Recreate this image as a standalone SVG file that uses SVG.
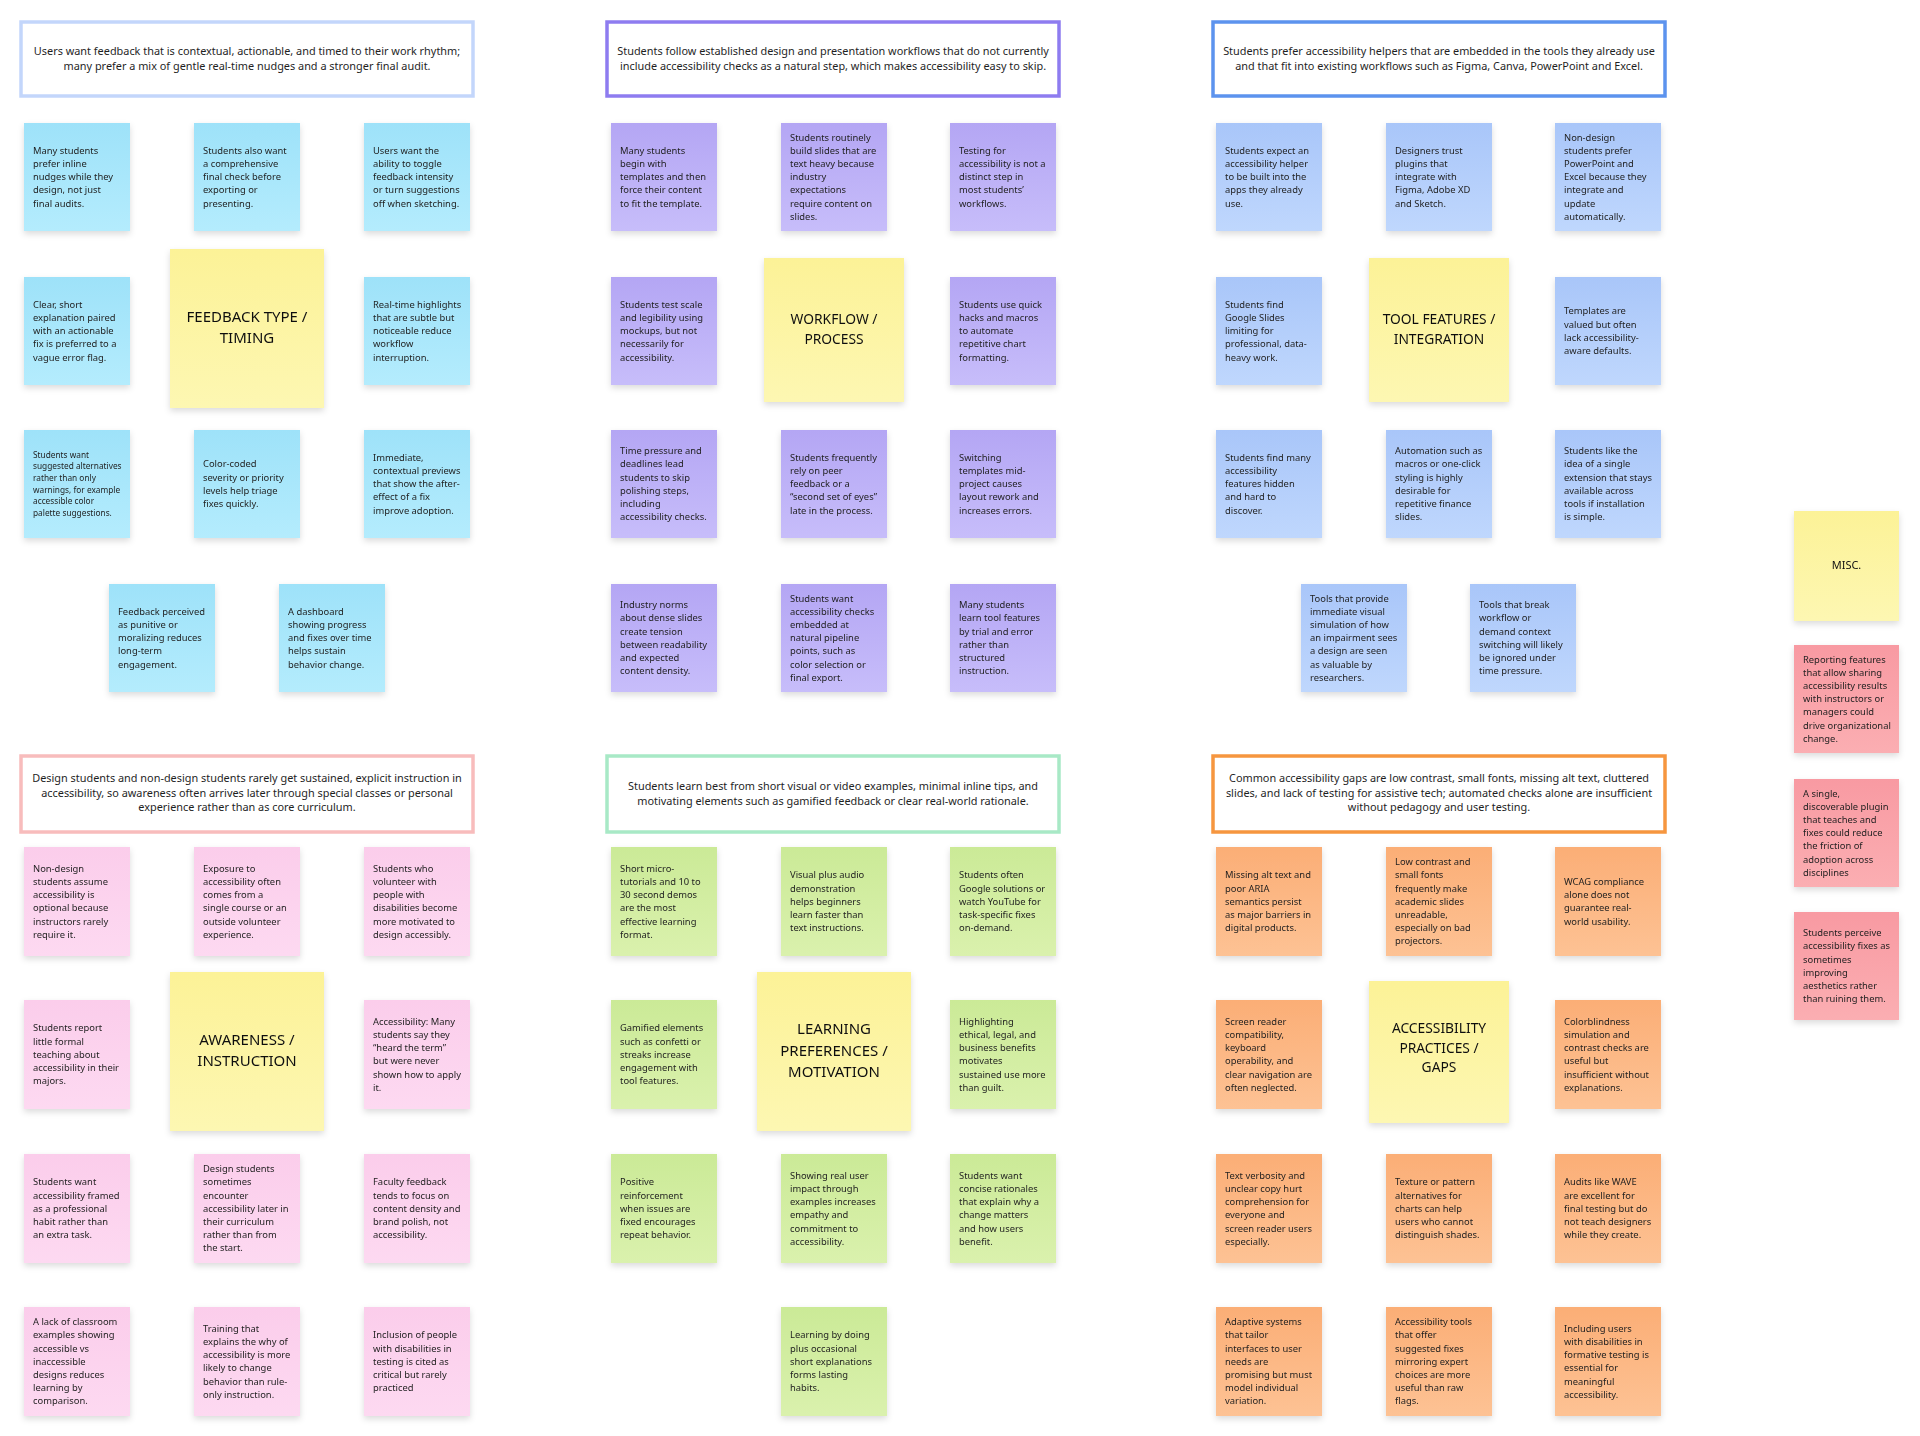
<svg xmlns="http://www.w3.org/2000/svg" width="1920" height="1436" viewBox="0 0 1920 1436">
<defs>
<filter id="sh" x="-20%" y="-20%" width="140%" height="150%"><feDropShadow dx="0" dy="3" stdDeviation="3" flood-color="#000" flood-opacity="0.14"/></filter>
<linearGradient id="gB1" x1="0" y1="0" x2="0" y2="1"><stop offset="0" stop-color="#9ee2f9"/><stop offset="1" stop-color="#b4ecfd"/></linearGradient>
<linearGradient id="gP" x1="0" y1="0" x2="0" y2="1"><stop offset="0" stop-color="#b4a6f4"/><stop offset="1" stop-color="#c7bdfa"/></linearGradient>
<linearGradient id="gB2" x1="0" y1="0" x2="0" y2="1"><stop offset="0" stop-color="#a9c6f9"/><stop offset="1" stop-color="#bfd7fd"/></linearGradient>
<linearGradient id="gK" x1="0" y1="0" x2="0" y2="1"><stop offset="0" stop-color="#fbcdeb"/><stop offset="1" stop-color="#fdd9f1"/></linearGradient>
<linearGradient id="gG" x1="0" y1="0" x2="0" y2="1"><stop offset="0" stop-color="#cbea97"/><stop offset="1" stop-color="#daf1ad"/></linearGradient>
<linearGradient id="gO" x1="0" y1="0" x2="0" y2="1"><stop offset="0" stop-color="#fbae76"/><stop offset="1" stop-color="#fdc294"/></linearGradient>
<linearGradient id="gR" x1="0" y1="0" x2="0" y2="1"><stop offset="0" stop-color="#f89aa2"/><stop offset="1" stop-color="#fbaeb2"/></linearGradient>
<linearGradient id="gY" x1="0" y1="0" x2="0" y2="1"><stop offset="0" stop-color="#fcf297"/><stop offset="1" stop-color="#fdf7b2"/></linearGradient>
</defs>
<style>
text{font-family:"Noto Sans","Open Sans","DejaVu Sans",sans-serif;fill:#1f1f1f}
.s{font-size:9.4px}
.ss{font-size:8.3px}
.hd{font-size:10.9px;text-anchor:middle}
.lab{font-size:15px;text-anchor:middle;fill:#111}
.lab2{font-size:13.8px;text-anchor:middle;fill:#111}
.hb{fill:#fff;stroke-width:3.5}
.n{filter:url(#sh)}
.b1{fill:url(#gB1)}.p{fill:url(#gP)}.b2{fill:url(#gB2)}.k{fill:url(#gK)}.g{fill:url(#gG)}.o{fill:url(#gO)}.r{fill:url(#gR)}.y{fill:url(#gY)}
</style>
<rect width="1920" height="1436" fill="#fff"/>
<g id="connectors"/>

<!-- Headers -->
<g id="h1"><rect class="hb" x="21" y="22" width="452" height="74" stroke="#c3d6fb"/><text class="hd" y="55"><tspan x="247">Users want feedback that is contextual, actionable, and timed to their work rhythm;</tspan><tspan x="247" dy="14.7">many prefer a mix of gentle real-time nudges and a stronger final audit.</tspan></text></g>
<g id="h2"><rect class="hb" x="607" y="22" width="452" height="74" stroke="#8e7cf0"/><text class="hd" y="55"><tspan x="833">Students follow established design and presentation workflows that do not currently</tspan><tspan x="833" dy="14.7">include accessibility checks as a natural step, which makes accessibility easy to skip.</tspan></text></g>
<g id="h3"><rect class="hb" x="1213" y="22" width="452" height="74" stroke="#5c93ee"/><text class="hd" y="55"><tspan x="1439">Students prefer accessibility helpers that are embedded in the tools they already use</tspan><tspan x="1439" dy="14.7">and that fit into existing workflows such as Figma, Canva, PowerPoint and Excel.</tspan></text></g>
<g id="h4"><rect class="hb" x="21" y="756" width="452" height="76" stroke="#f8bcbc"/><text class="hd" y="782"><tspan x="247">Design students and non-design students rarely get sustained, explicit instruction in</tspan><tspan x="247" dy="14.7">accessibility, so awareness often arrives later through special classes or personal</tspan><tspan x="247" dy="14.7">experience rather than as core curriculum.</tspan></text></g>
<g id="h5"><rect class="hb" x="607" y="756" width="452" height="76" stroke="#a8e9c6"/><text class="hd" y="790"><tspan x="833">Students learn best from short visual or video examples, minimal inline tips, and</tspan><tspan x="833" dy="14.7">motivating elements such as gamified feedback or clear real-world rationale.</tspan></text></g>
<g id="h6"><rect class="hb" x="1213" y="756" width="452" height="76" stroke="#f6963f"/><text class="hd" y="782"><tspan x="1439">Common accessibility gaps are low contrast, small fonts, missing alt text, cluttered</tspan><tspan x="1439" dy="14.7">slides, and lack of testing for assistive tech; automated checks alone are insufficient</tspan><tspan x="1439" dy="14.7">without pedagogy and user testing.</tspan></text></g>

<!-- Group 1: Feedback -->
<g id="n1a" class="n"><rect class="b1" x="24" y="123" width="106" height="108"/><text class="s" y="153.8"><tspan x="33">Many students</tspan><tspan x="33" dy="13.2">prefer inline</tspan><tspan x="33" dy="13.2">nudges while they</tspan><tspan x="33" dy="13.2">design, not just</tspan><tspan x="33" dy="13.2">final audits.</tspan></text></g>
<g id="n1b" class="n"><rect class="b1" x="194" y="123" width="106" height="108"/><text class="s" y="153.8"><tspan x="203">Students also want</tspan><tspan x="203" dy="13.2">a comprehensive</tspan><tspan x="203" dy="13.2">final check before</tspan><tspan x="203" dy="13.2">exporting or</tspan><tspan x="203" dy="13.2">presenting.</tspan></text></g>
<g id="n1c" class="n"><rect class="b1" x="364" y="123" width="106" height="108"/><text class="s" y="153.8"><tspan x="373">Users want the</tspan><tspan x="373" dy="13.2">ability to toggle</tspan><tspan x="373" dy="13.2">feedback intensity</tspan><tspan x="373" dy="13.2">or turn suggestions</tspan><tspan x="373" dy="13.2">off when sketching.</tspan></text></g>
<g id="n1d" class="n"><rect class="b1" x="24" y="277" width="106" height="108"/><text class="s" y="307.8"><tspan x="33">Clear, short</tspan><tspan x="33" dy="13.2">explanation paired</tspan><tspan x="33" dy="13.2">with an actionable</tspan><tspan x="33" dy="13.2">fix is preferred to a</tspan><tspan x="33" dy="13.2">vague error flag.</tspan></text></g>
<g id="t1" class="n"><rect class="y" x="170" y="249" width="154" height="159"/><text class="lab" y="322"><tspan x="247">FEEDBACK TYPE /</tspan><tspan x="247" dy="21">TIMING</tspan></text></g>
<g id="n1e" class="n"><rect class="b1" x="364" y="277" width="106" height="108"/><text class="s" y="307.8"><tspan x="373">Real-time highlights</tspan><tspan x="373" dy="13.2">that are subtle but</tspan><tspan x="373" dy="13.2">noticeable reduce</tspan><tspan x="373" dy="13.2">workflow</tspan><tspan x="373" dy="13.2">interruption.</tspan></text></g>
<g id="n1f" class="n"><rect class="b1" x="24" y="430" width="106" height="108"/><text class="ss" y="457.8"><tspan x="33">Students want</tspan><tspan x="33" dy="11.6">suggested alternatives</tspan><tspan x="33" dy="11.6">rather than only</tspan><tspan x="33" dy="11.6">warnings, for example</tspan><tspan x="33" dy="11.6">accessible color</tspan><tspan x="33" dy="11.6">palette suggestions.</tspan></text></g>
<g id="n1g" class="n"><rect class="b1" x="194" y="430" width="106" height="108"/><text class="s" y="467.4"><tspan x="203">Color-coded</tspan><tspan x="203" dy="13.2">severity or priority</tspan><tspan x="203" dy="13.2">levels help triage</tspan><tspan x="203" dy="13.2">fixes quickly.</tspan></text></g>
<g id="n1h" class="n"><rect class="b1" x="364" y="430" width="106" height="108"/><text class="s" y="460.8"><tspan x="373">Immediate,</tspan><tspan x="373" dy="13.2">contextual previews</tspan><tspan x="373" dy="13.2">that show the after-</tspan><tspan x="373" dy="13.2">effect of a fix</tspan><tspan x="373" dy="13.2">improve adoption.</tspan></text></g>
<g id="n1i" class="n"><rect class="b1" x="109" y="584" width="106" height="108"/><text class="s" y="614.8"><tspan x="118">Feedback perceived</tspan><tspan x="118" dy="13.2">as punitive or</tspan><tspan x="118" dy="13.2">moralizing reduces</tspan><tspan x="118" dy="13.2">long-term</tspan><tspan x="118" dy="13.2">engagement.</tspan></text></g>
<g id="n1j" class="n"><rect class="b1" x="279" y="584" width="106" height="108"/><text class="s" y="614.8"><tspan x="288">A dashboard</tspan><tspan x="288" dy="13.2">showing progress</tspan><tspan x="288" dy="13.2">and fixes over time</tspan><tspan x="288" dy="13.2">helps sustain</tspan><tspan x="288" dy="13.2">behavior change.</tspan></text></g>

<!-- Group 2: Workflow -->
<g id="n2a" class="n"><rect class="p" x="611" y="123" width="106" height="108"/><text class="s" y="153.8"><tspan x="620">Many students</tspan><tspan x="620" dy="13.2">begin with</tspan><tspan x="620" dy="13.2">templates and then</tspan><tspan x="620" dy="13.2">force their content</tspan><tspan x="620" dy="13.2">to fit the template.</tspan></text></g>
<g id="n2b" class="n"><rect class="p" x="781" y="123" width="106" height="108"/><text class="s" y="140.6"><tspan x="790">Students routinely</tspan><tspan x="790" dy="13.2">build slides that are</tspan><tspan x="790" dy="13.2">text heavy because</tspan><tspan x="790" dy="13.2">industry</tspan><tspan x="790" dy="13.2">expectations</tspan><tspan x="790" dy="13.2">require content on</tspan><tspan x="790" dy="13.2">slides.</tspan></text></g>
<g id="n2c" class="n"><rect class="p" x="950" y="123" width="106" height="108"/><text class="s" y="153.8"><tspan x="959">Testing for</tspan><tspan x="959" dy="13.2">accessibility is not a</tspan><tspan x="959" dy="13.2">distinct step in</tspan><tspan x="959" dy="13.2">most students’</tspan><tspan x="959" dy="13.2">workflows.</tspan></text></g>
<g id="n2d" class="n"><rect class="p" x="611" y="277" width="106" height="108"/><text class="s" y="307.8"><tspan x="620">Students test scale</tspan><tspan x="620" dy="13.2">and legibility using</tspan><tspan x="620" dy="13.2">mockups, but not</tspan><tspan x="620" dy="13.2">necessarily for</tspan><tspan x="620" dy="13.2">accessibility.</tspan></text></g>
<g id="t2" class="n"><rect class="y" x="764" y="258" width="140" height="144"/><text class="lab2" y="324"><tspan x="834">WORKFLOW /</tspan><tspan x="834" dy="19.5">PROCESS</tspan></text></g>
<g id="n2e" class="n"><rect class="p" x="950" y="277" width="106" height="108"/><text class="s" y="307.8"><tspan x="959">Students use quick</tspan><tspan x="959" dy="13.2">hacks and macros</tspan><tspan x="959" dy="13.2">to automate</tspan><tspan x="959" dy="13.2">repetitive chart</tspan><tspan x="959" dy="13.2">formatting.</tspan></text></g>
<g id="n2f" class="n"><rect class="p" x="611" y="430" width="106" height="108"/><text class="s" y="454.2"><tspan x="620">Time pressure and</tspan><tspan x="620" dy="13.2">deadlines lead</tspan><tspan x="620" dy="13.2">students to skip</tspan><tspan x="620" dy="13.2">polishing steps,</tspan><tspan x="620" dy="13.2">including</tspan><tspan x="620" dy="13.2">accessibility checks.</tspan></text></g>
<g id="n2g" class="n"><rect class="p" x="781" y="430" width="106" height="108"/><text class="s" y="460.8"><tspan x="790">Students frequently</tspan><tspan x="790" dy="13.2">rely on peer</tspan><tspan x="790" dy="13.2">feedback or a</tspan><tspan x="790" dy="13.2">“second set of eyes”</tspan><tspan x="790" dy="13.2">late in the process.</tspan></text></g>
<g id="n2h" class="n"><rect class="p" x="950" y="430" width="106" height="108"/><text class="s" y="460.8"><tspan x="959">Switching</tspan><tspan x="959" dy="13.2">templates mid-</tspan><tspan x="959" dy="13.2">project causes</tspan><tspan x="959" dy="13.2">layout rework and</tspan><tspan x="959" dy="13.2">increases errors.</tspan></text></g>
<g id="n2i" class="n"><rect class="p" x="611" y="584" width="106" height="108"/><text class="s" y="608.2"><tspan x="620">Industry norms</tspan><tspan x="620" dy="13.2">about dense slides</tspan><tspan x="620" dy="13.2">create tension</tspan><tspan x="620" dy="13.2">between readability</tspan><tspan x="620" dy="13.2">and expected</tspan><tspan x="620" dy="13.2">content density.</tspan></text></g>
<g id="n2j" class="n"><rect class="p" x="781" y="584" width="106" height="108"/><text class="s" y="601.6"><tspan x="790">Students want</tspan><tspan x="790" dy="13.2">accessibility checks</tspan><tspan x="790" dy="13.2">embedded at</tspan><tspan x="790" dy="13.2">natural pipeline</tspan><tspan x="790" dy="13.2">points, such as</tspan><tspan x="790" dy="13.2">color selection or</tspan><tspan x="790" dy="13.2">final export.</tspan></text></g>
<g id="n2k" class="n"><rect class="p" x="950" y="584" width="106" height="108"/><text class="s" y="608.2"><tspan x="959">Many students</tspan><tspan x="959" dy="13.2">learn tool features</tspan><tspan x="959" dy="13.2">by trial and error</tspan><tspan x="959" dy="13.2">rather than</tspan><tspan x="959" dy="13.2">structured</tspan><tspan x="959" dy="13.2">instruction.</tspan></text></g>

<!-- Group 3: Tools -->
<g id="n3a" class="n"><rect class="b2" x="1216" y="123" width="106" height="108"/><text class="s" y="153.8"><tspan x="1225">Students expect an</tspan><tspan x="1225" dy="13.2">accessibility helper</tspan><tspan x="1225" dy="13.2">to be built into the</tspan><tspan x="1225" dy="13.2">apps they already</tspan><tspan x="1225" dy="13.2">use.</tspan></text></g>
<g id="n3b" class="n"><rect class="b2" x="1386" y="123" width="106" height="108"/><text class="s" y="153.8"><tspan x="1395">Designers trust</tspan><tspan x="1395" dy="13.2">plugins that</tspan><tspan x="1395" dy="13.2">integrate with</tspan><tspan x="1395" dy="13.2">Figma, Adobe XD</tspan><tspan x="1395" dy="13.2">and Sketch.</tspan></text></g>
<g id="n3c" class="n"><rect class="b2" x="1555" y="123" width="106" height="108"/><text class="s" y="140.6"><tspan x="1564">Non-design</tspan><tspan x="1564" dy="13.2">students prefer</tspan><tspan x="1564" dy="13.2">PowerPoint and</tspan><tspan x="1564" dy="13.2">Excel because they</tspan><tspan x="1564" dy="13.2">integrate and</tspan><tspan x="1564" dy="13.2">update</tspan><tspan x="1564" dy="13.2">automatically.</tspan></text></g>
<g id="n3d" class="n"><rect class="b2" x="1216" y="277" width="106" height="108"/><text class="s" y="307.8"><tspan x="1225">Students find</tspan><tspan x="1225" dy="13.2">Google Slides</tspan><tspan x="1225" dy="13.2">limiting for</tspan><tspan x="1225" dy="13.2">professional, data-</tspan><tspan x="1225" dy="13.2">heavy work.</tspan></text></g>
<g id="t3" class="n"><rect class="y" x="1369" y="258" width="140" height="144"/><text class="lab2" y="324"><tspan x="1439">TOOL FEATURES /</tspan><tspan x="1439" dy="19.5">INTEGRATION</tspan></text></g>
<g id="n3e" class="n"><rect class="b2" x="1555" y="277" width="106" height="108"/><text class="s" y="314.4"><tspan x="1564">Templates are</tspan><tspan x="1564" dy="13.2">valued but often</tspan><tspan x="1564" dy="13.2">lack accessibility-</tspan><tspan x="1564" dy="13.2">aware defaults.</tspan></text></g>
<g id="n3f" class="n"><rect class="b2" x="1216" y="430" width="106" height="108"/><text class="s" y="460.8"><tspan x="1225">Students find many</tspan><tspan x="1225" dy="13.2">accessibility</tspan><tspan x="1225" dy="13.2">features hidden</tspan><tspan x="1225" dy="13.2">and hard to</tspan><tspan x="1225" dy="13.2">discover.</tspan></text></g>
<g id="n3g" class="n"><rect class="b2" x="1386" y="430" width="106" height="108"/><text class="s" y="454.2"><tspan x="1395">Automation such as</tspan><tspan x="1395" dy="13.2">macros or one-click</tspan><tspan x="1395" dy="13.2">styling is highly</tspan><tspan x="1395" dy="13.2">desirable for</tspan><tspan x="1395" dy="13.2">repetitive finance</tspan><tspan x="1395" dy="13.2">slides.</tspan></text></g>
<g id="n3h" class="n"><rect class="b2" x="1555" y="430" width="106" height="108"/><text class="s" y="454.2"><tspan x="1564">Students like the</tspan><tspan x="1564" dy="13.2">idea of a single</tspan><tspan x="1564" dy="13.2">extension that stays</tspan><tspan x="1564" dy="13.2">available across</tspan><tspan x="1564" dy="13.2">tools if installation</tspan><tspan x="1564" dy="13.2">is simple.</tspan></text></g>
<g id="n3i" class="n"><rect class="b2" x="1301" y="584" width="106" height="108"/><text class="s" y="601.6"><tspan x="1310">Tools that provide</tspan><tspan x="1310" dy="13.2">immediate visual</tspan><tspan x="1310" dy="13.2">simulation of how</tspan><tspan x="1310" dy="13.2">an impairment sees</tspan><tspan x="1310" dy="13.2">a design are seen</tspan><tspan x="1310" dy="13.2">as valuable by</tspan><tspan x="1310" dy="13.2">researchers.</tspan></text></g>
<g id="n3j" class="n"><rect class="b2" x="1470" y="584" width="106" height="108"/><text class="s" y="608.2"><tspan x="1479">Tools that break</tspan><tspan x="1479" dy="13.2">workflow or</tspan><tspan x="1479" dy="13.2">demand context</tspan><tspan x="1479" dy="13.2">switching will likely</tspan><tspan x="1479" dy="13.2">be ignored under</tspan><tspan x="1479" dy="13.2">time pressure.</tspan></text></g>

<!-- Misc -->
<g id="t7" class="n"><rect class="y" x="1794" y="511" width="105" height="110"/><text class="lab" style="font-size:11px" x="1846.5" y="569">MISC.</text></g>
<g id="n7a" class="n"><rect class="r" x="1794" y="645" width="105" height="108"/><text class="s" y="662.6"><tspan x="1803">Reporting features</tspan><tspan x="1803" dy="13.2">that allow sharing</tspan><tspan x="1803" dy="13.2">accessibility results</tspan><tspan x="1803" dy="13.2">with instructors or</tspan><tspan x="1803" dy="13.2">managers could</tspan><tspan x="1803" dy="13.2">drive organizational</tspan><tspan x="1803" dy="13.2">change.</tspan></text></g>
<g id="n7b" class="n"><rect class="r" x="1794" y="779" width="105" height="108"/><text class="s" y="796.6"><tspan x="1803">A single,</tspan><tspan x="1803" dy="13.2">discoverable plugin</tspan><tspan x="1803" dy="13.2">that teaches and</tspan><tspan x="1803" dy="13.2">fixes could reduce</tspan><tspan x="1803" dy="13.2">the friction of</tspan><tspan x="1803" dy="13.2">adoption across</tspan><tspan x="1803" dy="13.2">disciplines</tspan></text></g>
<g id="n7c" class="n"><rect class="r" x="1794" y="912" width="105" height="108"/><text class="s" y="936.2"><tspan x="1803">Students perceive</tspan><tspan x="1803" dy="13.2">accessibility fixes as</tspan><tspan x="1803" dy="13.2">sometimes</tspan><tspan x="1803" dy="13.2">improving</tspan><tspan x="1803" dy="13.2">aesthetics rather</tspan><tspan x="1803" dy="13.2">than ruining them.</tspan></text></g>

<!-- Group 4: Awareness -->
<g id="n4a" class="n"><rect class="k" x="24" y="847" width="106" height="109"/><text class="s" y="871.7"><tspan x="33">Non-design</tspan><tspan x="33" dy="13.2">students assume</tspan><tspan x="33" dy="13.2">accessibility is</tspan><tspan x="33" dy="13.2">optional because</tspan><tspan x="33" dy="13.2">instructors rarely</tspan><tspan x="33" dy="13.2">require it.</tspan></text></g>
<g id="n4b" class="n"><rect class="k" x="194" y="847" width="106" height="109"/><text class="s" y="871.7"><tspan x="203">Exposure to</tspan><tspan x="203" dy="13.2">accessibility often</tspan><tspan x="203" dy="13.2">comes from a</tspan><tspan x="203" dy="13.2">single course or an</tspan><tspan x="203" dy="13.2">outside volunteer</tspan><tspan x="203" dy="13.2">experience.</tspan></text></g>
<g id="n4c" class="n"><rect class="k" x="364" y="847" width="106" height="109"/><text class="s" y="871.7"><tspan x="373">Students who</tspan><tspan x="373" dy="13.2">volunteer with</tspan><tspan x="373" dy="13.2">people with</tspan><tspan x="373" dy="13.2">disabilities become</tspan><tspan x="373" dy="13.2">more motivated to</tspan><tspan x="373" dy="13.2">design accessibly.</tspan></text></g>
<g id="n4d" class="n"><rect class="k" x="24" y="1000" width="106" height="109"/><text class="s" y="1031.3"><tspan x="33">Students report</tspan><tspan x="33" dy="13.2">little formal</tspan><tspan x="33" dy="13.2">teaching about</tspan><tspan x="33" dy="13.2">accessibility in their</tspan><tspan x="33" dy="13.2">majors.</tspan></text></g>
<g id="t4" class="n"><rect class="y" x="170" y="972" width="154" height="159"/><text class="lab" y="1045"><tspan x="247">AWARENESS /</tspan><tspan x="247" dy="21">INSTRUCTION</tspan></text></g>
<g id="n4e" class="n"><rect class="k" x="364" y="1000" width="106" height="109"/><text class="s" y="1024.7"><tspan x="373">Accessibility: Many</tspan><tspan x="373" dy="13.2">students say they</tspan><tspan x="373" dy="13.2">“heard the term”</tspan><tspan x="373" dy="13.2">but were never</tspan><tspan x="373" dy="13.2">shown how to apply</tspan><tspan x="373" dy="13.2">it.</tspan></text></g>
<g id="n4f" class="n"><rect class="k" x="24" y="1154" width="106" height="109"/><text class="s" y="1185.3"><tspan x="33">Students want</tspan><tspan x="33" dy="13.2">accessibility framed</tspan><tspan x="33" dy="13.2">as a professional</tspan><tspan x="33" dy="13.2">habit rather than</tspan><tspan x="33" dy="13.2">an extra task.</tspan></text></g>
<g id="n4g" class="n"><rect class="k" x="194" y="1154" width="106" height="109"/><text class="s" y="1172.1"><tspan x="203">Design students</tspan><tspan x="203" dy="13.2">sometimes</tspan><tspan x="203" dy="13.2">encounter</tspan><tspan x="203" dy="13.2">accessibility later in</tspan><tspan x="203" dy="13.2">their curriculum</tspan><tspan x="203" dy="13.2">rather than from</tspan><tspan x="203" dy="13.2">the start.</tspan></text></g>
<g id="n4h" class="n"><rect class="k" x="364" y="1154" width="106" height="109"/><text class="s" y="1185.3"><tspan x="373">Faculty feedback</tspan><tspan x="373" dy="13.2">tends to focus on</tspan><tspan x="373" dy="13.2">content density and</tspan><tspan x="373" dy="13.2">brand polish, not</tspan><tspan x="373" dy="13.2">accessibility.</tspan></text></g>
<g id="n4i" class="n"><rect class="k" x="24" y="1307" width="106" height="109"/><text class="s" y="1325.1"><tspan x="33">A lack of classroom</tspan><tspan x="33" dy="13.2">examples showing</tspan><tspan x="33" dy="13.2">accessible vs</tspan><tspan x="33" dy="13.2">inaccessible</tspan><tspan x="33" dy="13.2">designs reduces</tspan><tspan x="33" dy="13.2">learning by</tspan><tspan x="33" dy="13.2">comparison.</tspan></text></g>
<g id="n4j" class="n"><rect class="k" x="194" y="1307" width="106" height="109"/><text class="s" y="1331.7"><tspan x="203">Training that</tspan><tspan x="203" dy="13.2">explains the why of</tspan><tspan x="203" dy="13.2">accessibility is more</tspan><tspan x="203" dy="13.2">likely to change</tspan><tspan x="203" dy="13.2">behavior than rule-</tspan><tspan x="203" dy="13.2">only instruction.</tspan></text></g>
<g id="n4k" class="n"><rect class="k" x="364" y="1307" width="106" height="109"/><text class="s" y="1338.3"><tspan x="373">Inclusion of people</tspan><tspan x="373" dy="13.2">with disabilities in</tspan><tspan x="373" dy="13.2">testing is cited as</tspan><tspan x="373" dy="13.2">critical but rarely</tspan><tspan x="373" dy="13.2">practiced</tspan></text></g>

<!-- Group 5: Learning -->
<g id="n5a" class="n"><rect class="g" x="611" y="847" width="106" height="109"/><text class="s" y="871.7"><tspan x="620">Short micro-</tspan><tspan x="620" dy="13.2">tutorials and 10 to</tspan><tspan x="620" dy="13.2">30 second demos</tspan><tspan x="620" dy="13.2">are the most</tspan><tspan x="620" dy="13.2">effective learning</tspan><tspan x="620" dy="13.2">format.</tspan></text></g>
<g id="n5b" class="n"><rect class="g" x="781" y="847" width="106" height="109"/><text class="s" y="878.3"><tspan x="790">Visual plus audio</tspan><tspan x="790" dy="13.2">demonstration</tspan><tspan x="790" dy="13.2">helps beginners</tspan><tspan x="790" dy="13.2">learn faster than</tspan><tspan x="790" dy="13.2">text instructions.</tspan></text></g>
<g id="n5c" class="n"><rect class="g" x="950" y="847" width="106" height="109"/><text class="s" y="878.3"><tspan x="959">Students often</tspan><tspan x="959" dy="13.2">Google solutions or</tspan><tspan x="959" dy="13.2">watch YouTube for</tspan><tspan x="959" dy="13.2">task-specific fixes</tspan><tspan x="959" dy="13.2">on-demand.</tspan></text></g>
<g id="n5d" class="n"><rect class="g" x="611" y="1000" width="106" height="109"/><text class="s" y="1031.3"><tspan x="620">Gamified elements</tspan><tspan x="620" dy="13.2">such as confetti or</tspan><tspan x="620" dy="13.2">streaks increase</tspan><tspan x="620" dy="13.2">engagement with</tspan><tspan x="620" dy="13.2">tool features.</tspan></text></g>
<g id="t5" class="n"><rect class="y" x="757" y="972" width="154" height="159"/><text class="lab" y="1034"><tspan x="834">LEARNING</tspan><tspan x="834" dy="21.5">PREFERENCES /</tspan><tspan x="834" dy="21.5">MOTIVATION</tspan></text></g>
<g id="n5e" class="n"><rect class="g" x="950" y="1000" width="106" height="109"/><text class="s" y="1024.7"><tspan x="959">Highlighting</tspan><tspan x="959" dy="13.2">ethical, legal, and</tspan><tspan x="959" dy="13.2">business benefits</tspan><tspan x="959" dy="13.2">motivates</tspan><tspan x="959" dy="13.2">sustained use more</tspan><tspan x="959" dy="13.2">than guilt.</tspan></text></g>
<g id="n5f" class="n"><rect class="g" x="611" y="1154" width="106" height="109"/><text class="s" y="1185.3"><tspan x="620">Positive</tspan><tspan x="620" dy="13.2">reinforcement</tspan><tspan x="620" dy="13.2">when issues are</tspan><tspan x="620" dy="13.2">fixed encourages</tspan><tspan x="620" dy="13.2">repeat behavior.</tspan></text></g>
<g id="n5g" class="n"><rect class="g" x="781" y="1154" width="106" height="109"/><text class="s" y="1178.7"><tspan x="790">Showing real user</tspan><tspan x="790" dy="13.2">impact through</tspan><tspan x="790" dy="13.2">examples increases</tspan><tspan x="790" dy="13.2">empathy and</tspan><tspan x="790" dy="13.2">commitment to</tspan><tspan x="790" dy="13.2">accessibility.</tspan></text></g>
<g id="n5h" class="n"><rect class="g" x="950" y="1154" width="106" height="109"/><text class="s" y="1178.7"><tspan x="959">Students want</tspan><tspan x="959" dy="13.2">concise rationales</tspan><tspan x="959" dy="13.2">that explain why a</tspan><tspan x="959" dy="13.2">change matters</tspan><tspan x="959" dy="13.2">and how users</tspan><tspan x="959" dy="13.2">benefit.</tspan></text></g>
<g id="n5i" class="n"><rect class="g" x="781" y="1307" width="106" height="109"/><text class="s" y="1338.3"><tspan x="790">Learning by doing</tspan><tspan x="790" dy="13.2">plus occasional</tspan><tspan x="790" dy="13.2">short explanations</tspan><tspan x="790" dy="13.2">forms lasting</tspan><tspan x="790" dy="13.2">habits.</tspan></text></g>

<!-- Group 6: Practices -->
<g id="n6a" class="n"><rect class="o" x="1216" y="847" width="106" height="109"/><text class="s" y="878.3"><tspan x="1225">Missing alt text and</tspan><tspan x="1225" dy="13.2">poor ARIA</tspan><tspan x="1225" dy="13.2">semantics persist</tspan><tspan x="1225" dy="13.2">as major barriers in</tspan><tspan x="1225" dy="13.2">digital products.</tspan></text></g>
<g id="n6b" class="n"><rect class="o" x="1386" y="847" width="106" height="109"/><text class="s" y="865.1"><tspan x="1395">Low contrast and</tspan><tspan x="1395" dy="13.2">small fonts</tspan><tspan x="1395" dy="13.2">frequently make</tspan><tspan x="1395" dy="13.2">academic slides</tspan><tspan x="1395" dy="13.2">unreadable,</tspan><tspan x="1395" dy="13.2">especially on bad</tspan><tspan x="1395" dy="13.2">projectors.</tspan></text></g>
<g id="n6c" class="n"><rect class="o" x="1555" y="847" width="106" height="109"/><text class="s" y="884.9"><tspan x="1564">WCAG compliance</tspan><tspan x="1564" dy="13.2">alone does not</tspan><tspan x="1564" dy="13.2">guarantee real-</tspan><tspan x="1564" dy="13.2">world usability.</tspan></text></g>
<g id="n6d" class="n"><rect class="o" x="1216" y="1000" width="106" height="109"/><text class="s" y="1024.7"><tspan x="1225">Screen reader</tspan><tspan x="1225" dy="13.2">compatibility,</tspan><tspan x="1225" dy="13.2">keyboard</tspan><tspan x="1225" dy="13.2">operability, and</tspan><tspan x="1225" dy="13.2">clear navigation are</tspan><tspan x="1225" dy="13.2">often neglected.</tspan></text></g>
<g id="t6" class="n"><rect class="y" x="1369" y="981" width="140" height="142"/><text class="lab2" y="1033"><tspan x="1439">ACCESSIBILITY</tspan><tspan x="1439" dy="19.5">PRACTICES /</tspan><tspan x="1439" dy="19.5">GAPS</tspan></text></g>
<g id="n6e" class="n"><rect class="o" x="1555" y="1000" width="106" height="109"/><text class="s" y="1024.7"><tspan x="1564">Colorblindness</tspan><tspan x="1564" dy="13.2">simulation and</tspan><tspan x="1564" dy="13.2">contrast checks are</tspan><tspan x="1564" dy="13.2">useful but</tspan><tspan x="1564" dy="13.2">insufficient without</tspan><tspan x="1564" dy="13.2">explanations.</tspan></text></g>
<g id="n6f" class="n"><rect class="o" x="1216" y="1154" width="106" height="109"/><text class="s" y="1178.7"><tspan x="1225">Text verbosity and</tspan><tspan x="1225" dy="13.2">unclear copy hurt</tspan><tspan x="1225" dy="13.2">comprehension for</tspan><tspan x="1225" dy="13.2">everyone and</tspan><tspan x="1225" dy="13.2">screen reader users</tspan><tspan x="1225" dy="13.2">especially.</tspan></text></g>
<g id="n6g" class="n"><rect class="o" x="1386" y="1154" width="106" height="109"/><text class="s" y="1185.3"><tspan x="1395">Texture or pattern</tspan><tspan x="1395" dy="13.2">alternatives for</tspan><tspan x="1395" dy="13.2">charts can help</tspan><tspan x="1395" dy="13.2">users who cannot</tspan><tspan x="1395" dy="13.2">distinguish shades.</tspan></text></g>
<g id="n6h" class="n"><rect class="o" x="1555" y="1154" width="106" height="109"/><text class="s" y="1185.3"><tspan x="1564">Audits like WAVE</tspan><tspan x="1564" dy="13.2">are excellent for</tspan><tspan x="1564" dy="13.2">final testing but do</tspan><tspan x="1564" dy="13.2">not teach designers</tspan><tspan x="1564" dy="13.2">while they create.</tspan></text></g>
<g id="n6i" class="n"><rect class="o" x="1216" y="1307" width="106" height="109"/><text class="s" y="1325.1"><tspan x="1225">Adaptive systems</tspan><tspan x="1225" dy="13.2">that tailor</tspan><tspan x="1225" dy="13.2">interfaces to user</tspan><tspan x="1225" dy="13.2">needs are</tspan><tspan x="1225" dy="13.2">promising but must</tspan><tspan x="1225" dy="13.2">model individual</tspan><tspan x="1225" dy="13.2">variation.</tspan></text></g>
<g id="n6j" class="n"><rect class="o" x="1386" y="1307" width="106" height="109"/><text class="s" y="1325.1"><tspan x="1395">Accessibility tools</tspan><tspan x="1395" dy="13.2">that offer</tspan><tspan x="1395" dy="13.2">suggested fixes</tspan><tspan x="1395" dy="13.2">mirroring expert</tspan><tspan x="1395" dy="13.2">choices are more</tspan><tspan x="1395" dy="13.2">useful than raw</tspan><tspan x="1395" dy="13.2">flags.</tspan></text></g>
<g id="n6k" class="n"><rect class="o" x="1555" y="1307" width="106" height="109"/><text class="s" y="1331.7"><tspan x="1564">Including users</tspan><tspan x="1564" dy="13.2">with disabilities in</tspan><tspan x="1564" dy="13.2">formative testing is</tspan><tspan x="1564" dy="13.2">essential for</tspan><tspan x="1564" dy="13.2">meaningful</tspan><tspan x="1564" dy="13.2">accessibility.</tspan></text></g>
</svg>
